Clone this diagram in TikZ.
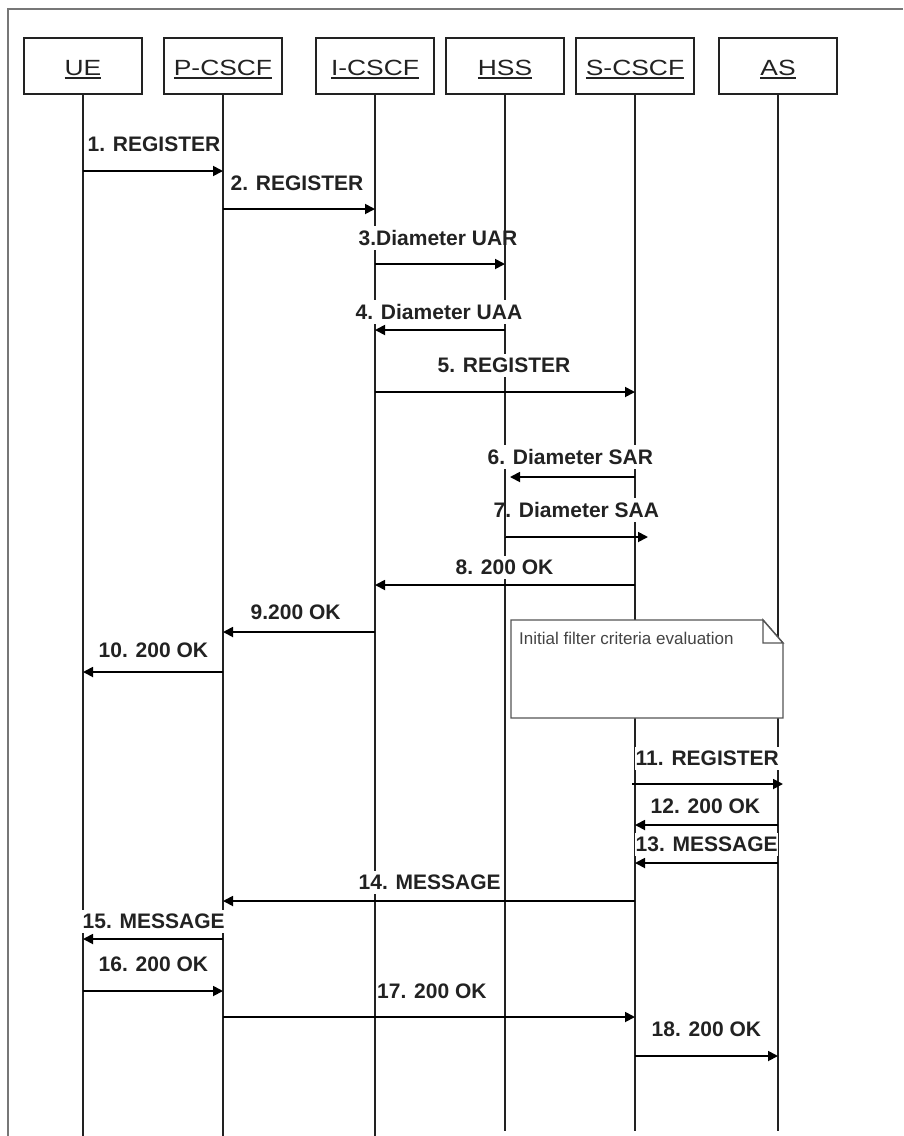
\documentclass[tikz,border=0pt]{standalone}
\usepackage{fontspec}
\setmainfont{Liberation Sans}
\newfontfamily\hdrfont[FakeStretch=1.2]{Liberation Sans}
\usetikzlibrary{arrows.meta,calc}
\definecolor{ink}{HTML}{222222}
\definecolor{framegray}{HTML}{777777}
\definecolor{notegray}{HTML}{555555}
\definecolor{notetext}{HTML}{444444}
% underlined header names
\newlength\ulwd
\newcommand\ulined[1]{\settowidth\ulwd{#1}\rlap{\rule[-3.5pt]{\ulwd}{1.2pt}}#1}
\begin{document}
\begin{tikzpicture}[x=1pt,y=-1pt,
  hdr/.style={draw=ink,line width=2.2pt,minimum width=118pt,minimum height=56pt,
    inner sep=0pt,font=\hdrfont\fontsize{22}{22}\selectfont,text=ink,
    text height=21.5pt,text depth=3.5pt},
  life/.style={draw=ink,line width=1.8pt},
  msg/.style={draw=black,line width=1.8pt,-{Triangle[length=10pt,width=10pt]}},
  lbl/.style={font=\fontsize{21}{21}\bfseries\selectfont,text=ink,fill=white,
    inner xsep=0.5pt,inner ysep=4pt,anchor=base west},
]
\useasboundingbox (0,0) rectangle (903,1136);
% outer frame
\draw[framegray,line width=1.3pt] (8,1136) -- (8,9) -- (903,9);

% participants
\node[hdr] (UE)  at (83,66)  {\ulined{UE}};
\node[hdr] (PC)  at (223,66) {\ulined{P-CSCF}};
\node[hdr] (IC)  at (375,66) {\ulined{I-CSCF}};
\node[hdr] (HSS) at (505,66) {\ulined{HSS}};
\node[hdr] (SC)  at (635,66) {\ulined{S-CSCF}};
\node[hdr] (AS)  at (778,66) {\ulined{AS}};

% lifelines
\draw[life] (UE.south)  -- (UE |- 0,1136);
\draw[life] (PC.south)  -- (PC |- 0,1136);
\draw[life] (IC.south)  -- (IC |- 0,1136);
\draw[life] (HSS.south) -- (HSS |- 0,1131);
\draw[life] (SC.south)  -- (SC |- 0,1131);
\draw[life] (AS.south)  -- (AS |- 0,1131);

% note on the S-CSCF
\draw[notegray,line width=1.4pt,fill=white]
  (511,620) -- (763,620) -- (783,643) -- (783,718) -- (511,718) -- cycle;
\draw[notegray,line width=1.4pt,fill=white] (763,620) -- (763,643) -- (783,643) -- cycle;
\node[anchor=west,inner sep=0pt,text=notetext,font=\fontsize{17}{17}\selectfont]
  (note) at (519,638) {Initial filter criteria evaluation};

% messages
\draw[msg] (UE |- 0,171) -- (PC |- 0,171);
\draw[msg] (PC |- 0,209) -- (IC |- 0,209);
\draw[msg] (IC |- 0,264) -- (HSS |- 0,264);
\draw[msg] (HSS |- 0,330) -- (IC |- 0,330);
\draw[msg] (IC |- 0,392) -- (SC |- 0,392);
\draw[msg] (SC |- 0,477) -- ($(HSS |- 0,477)+(5,0)$);
\draw[msg] (HSS |- 0,537) -- ($(SC |- 0,537)+(13,0)$);
\draw[msg] (SC |- 0,585) -- (IC |- 0,585);
\draw[msg] (IC |- 0,632) -- (PC |- 0,632);
\draw[msg] (PC |- 0,672) -- (UE |- 0,672);
\draw[msg] ($(SC |- 0,784)+(-3,0)$) -- ($(AS |- 0,784)+(5,0)$);
\draw[msg] (AS |- 0,825) -- (SC |- 0,825);
\draw[msg] (AS |- 0,863) -- (SC |- 0,863);
\draw[msg] (SC |- 0,901) -- (PC |- 0,901);
\draw[msg] (PC |- 0,939) -- (UE |- 0,939);
\draw[msg] (UE |- 0,991) -- (PC |- 0,991);
\draw[msg] (PC |- 0,1017) -- (SC |- 0,1017);
\draw[msg] (SC |- 0,1056) -- (AS |- 0,1056);

% message labels
\node[lbl] (l1)  at (87,151.5)   {1. REGISTER};
\node[lbl] (l2)  at (230,190.5)  {2. REGISTER};
\node[lbl] (l3)  at (358,245.5)  {3.Diameter UAR};
\node[lbl] (l4)  at (355,319.5)  {4. Diameter UAA};
\node[lbl] (l5)  at (437,372.5)  {5. REGISTER};
\node[lbl] (l6)  at (487,464.5)  {6. Diameter SAR};
\node[lbl] (l7)  at (493,517.5)  {7. Diameter SAA};
\node[lbl] (l8)  at (455,574.5)  {8. 200 OK};
\node[lbl] (l9)  at (250,619.5)  {9.200 OK};
\node[lbl] (l10) at (98,657.5)   {10. 200 OK};
\node[lbl] (l11) at (635,765.5)  {11. REGISTER};
\node[lbl] (l12) at (650,813.5)  {12. 200 OK};
\node[lbl] (l13) at (635,851.5)  {13. MESSAGE};
\node[lbl] (l14) at (358,889.5)  {14. MESSAGE};
\node[lbl] (l15) at (82,928.5)   {15. MESSAGE};
\node[lbl] (l16) at (98,971.5)   {16. 200 OK};
\node[lbl] (l17) at (376.5,998.5) {17. 200 OK};
\node[lbl] (l18) at (651,1036.5) {18. 200 OK};

% HSS lifeline runs over labels 3 and 7
\draw[life] (HSS |- 0,222) -- (HSS |- 0,264);
\draw[life] (HSS |- 0,480) -- (HSS |- 0,537);
\end{tikzpicture}
\end{document}
